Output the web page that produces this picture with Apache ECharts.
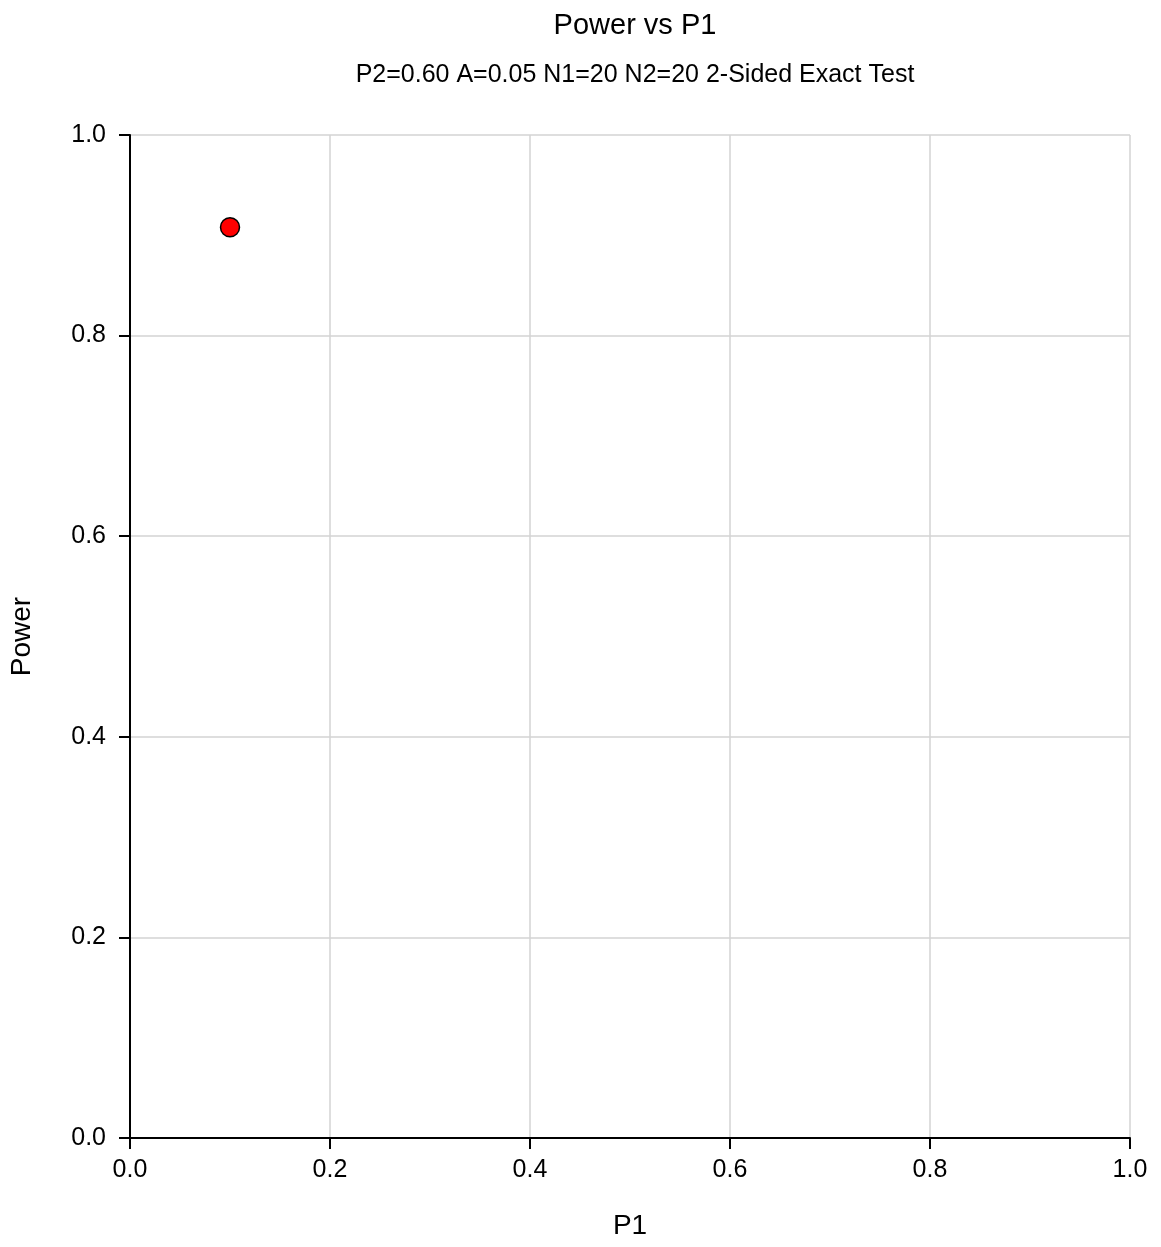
<!DOCTYPE html>
<html><head><meta charset="utf-8">
<script src="https://cdn.jsdelivr.net/npm/echarts@6/dist/echarts.min.js"></script>
<style>html,body{margin:0;padding:0;background:#fff}#c{width:1161px;height:1247px}</style>
</head><body><div id="c"></div>
<script>
const titleText = "Power vs P1";
const subtitleText = "P2=0.60 A=0.05 N1=20 N2=20 2-Sided Exact Test";
const p1Values = [0.10];
const powerValues = [0.908];
const xName = "P1";
const yName = "Power";

const chart = echarts.init(document.getElementById('c'));
const font = 'Arial, "Liberation Sans", sans-serif';
chart.setOption({
  animation: false,
  backgroundColor: '#fff',
  title: [
    {text: titleText, left: 630, textAlign: 'center', top: 6, textStyle: {fontFamily: font, fontSize: 29, fontWeight: 'normal', color: '#000'}},
    {text: subtitleText, left: 630, textAlign: 'center', top: 58, textStyle: {fontFamily: font, fontSize: 25, fontWeight: 'normal', color: '#000'}}
  ],
  grid: {left: 130, right: 31, top: 135, bottom: 109, containLabel: false},
  xAxis: {
    type: 'value', min: 0, max: 1, interval: 0.2,
    name: xName, nameLocation: 'middle', nameGap: 74,
    nameTextStyle: {fontFamily: font, fontSize: 28, color: '#000'},
    axisLine: {show: true, lineStyle: {color: '#000', width: 2}},
    axisTick: {show: true, length: 11, lineStyle: {color: '#000', width: 2}},
    axisLabel: {fontFamily: font, fontSize: 25, color: '#000', margin: 20, formatter: v => v.toFixed(1)},
    splitLine: {show: true, lineStyle: {color: '#d3d3d3', width: 1.5}}
  },
  yAxis: {
    type: 'value', min: 0, max: 1, interval: 0.2,
    name: yName, nameLocation: 'middle', nameGap: 94, nameRotate: 90,
    nameTextStyle: {fontFamily: font, fontSize: 28, color: '#000'},
    axisLine: {show: true, lineStyle: {color: '#000', width: 2}},
    axisTick: {show: true, length: 11, lineStyle: {color: '#000', width: 2}},
    axisLabel: {fontFamily: font, fontSize: 25, color: '#000', margin: 24, formatter: v => v.toFixed(1)},
    splitLine: {show: true, lineStyle: {color: '#d3d3d3', width: 1.5}}
  },
  series: [{
    type: 'scatter',
    data: p1Values.map((x, i) => [x, powerValues[i]]),
    symbol: 'circle', symbolSize: 19,
    itemStyle: {color: '#ff0000', borderColor: '#000', borderWidth: 1.5, opacity: 1}
  }]
});
</script></body></html>
